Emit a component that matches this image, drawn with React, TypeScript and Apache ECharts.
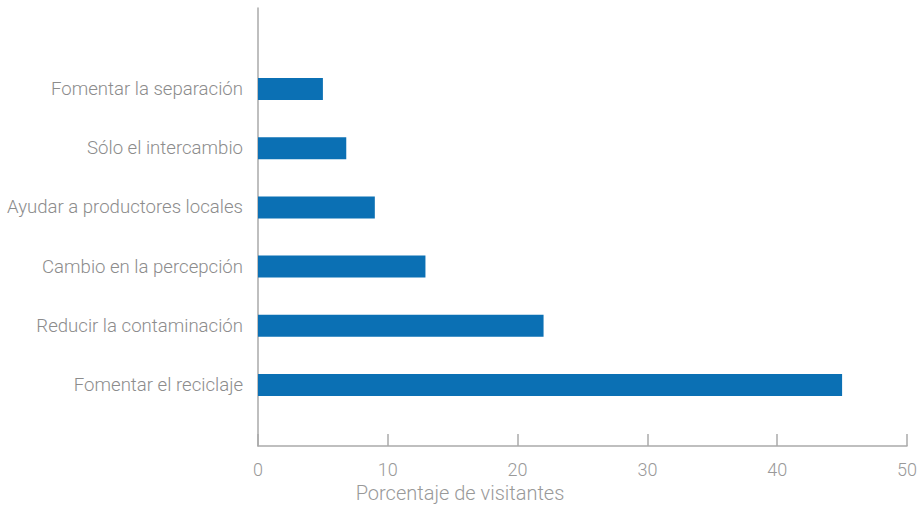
import React, { useEffect, useRef } from "react";
import * as echarts from "echarts";

const categories = [
  "Fomentar el reciclaje",
  "Reducir la contaminación",
  "Cambio en la percepción",
  "Ayudar a productores locales",
  "Sólo el intercambio",
  "Fomentar la separación",
];
const values = [45, 22, 12.9, 9, 6.8, 5];
const xTicks = [0, 10, 20, 30, 40, 50];

export default function App() {
  const ref = useRef<HTMLDivElement>(null);
  useEffect(() => {
    if (!ref.current) return;
    const chart = echarts.init(ref.current, null, { renderer: "svg" });
    const font = "Roboto, 'Helvetica Neue', sans-serif";
    const axisColor = "#aaaaaa";
    const textColor = "#999999";
    chart.setOption({
      animation: false,
      grid: [
        { left: 258, right: 16, top: 59.4, bottom: 93.4, containLabel: false },
        { left: 258, right: 16, top: 8, bottom: 62, containLabel: false },
      ],
      xAxis: [
        {
          gridIndex: 0,
          type: "value",
          min: xTicks[0],
          max: xTicks[xTicks.length - 1],
          interval: 10,
          show: false,
        },
        {
          gridIndex: 1,
          type: "value",
          min: xTicks[0],
          max: xTicks[xTicks.length - 1],
          interval: 10,
          splitLine: { show: false },
          axisLine: { show: true, lineStyle: { color: axisColor, width: 1.5 } },
          axisTick: { show: true, inside: true, length: 12, lineStyle: { color: axisColor, width: 1.5 } },
          axisLabel: { margin: 14, color: textColor, fontSize: 18, fontFamily: font, fontWeight: 300 },
          name: "Porcentaje de visitantes",
          nameLocation: "middle",
          nameGap: 37,
          nameTextStyle: {
            color: textColor,
            fontSize: 20,
            fontFamily: font,
            fontWeight: 300,
            padding: [0, 245, 0, 0],
          },
        },
      ],
      yAxis: [
        {
          gridIndex: 0,
          type: "category",
          data: categories,
          axisLine: { show: false },
          axisTick: { show: false },
          splitLine: { show: false },
          axisLabel: {
            margin: 15,
            color: "#8c8c8c",
            fontSize: 18.6,
            fontFamily: font,
            fontWeight: 300,
            padding: [0, 0, 2, 0],
          },
        },
        {
          gridIndex: 1,
          type: "value",
          min: 0,
          max: 1,
          splitLine: { show: false },
          axisLine: { show: true, lineStyle: { color: axisColor, width: 1.5 } },
          axisTick: { show: false },
          axisLabel: { show: false },
        },
      ],
      series: [
        {
          type: "bar",
          xAxisIndex: 0,
          yAxisIndex: 0,
          barWidth: 22,
          itemStyle: { color: "#0b70b4" },
          data: values,
        },
      ],
    });
    return () => chart.dispose();
  }, []);
  return (
    <div
      ref={ref}
      style={{ position: "absolute", left: 0, top: 0, width: 923, height: 508 }}
    />
  );
}
